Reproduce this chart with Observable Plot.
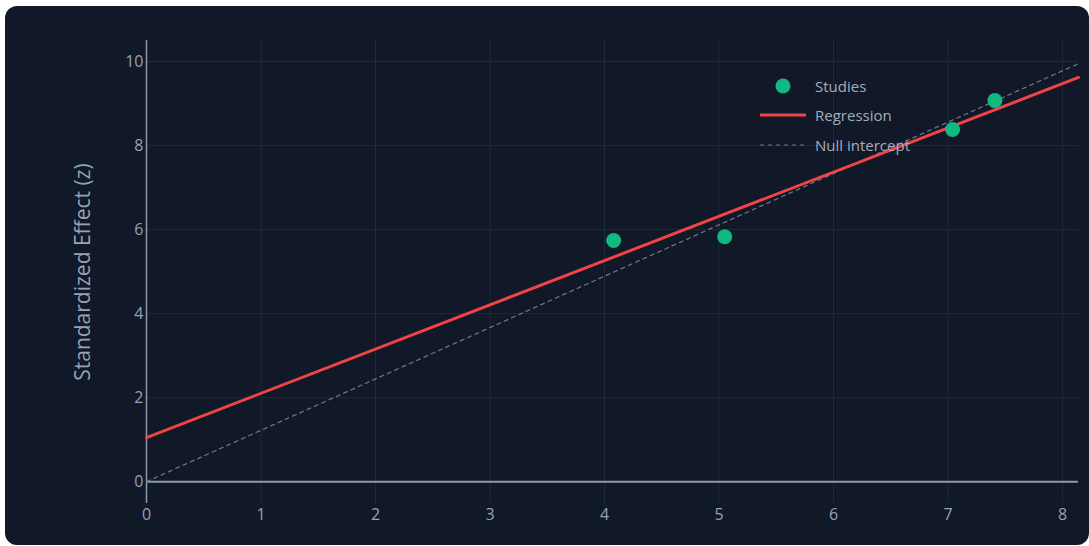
<!DOCTYPE html>
<html>
<head>
<meta charset="utf-8">
<script src="https://cdn.jsdelivr.net/npm/d3@7"></script>
<script src="https://cdn.jsdelivr.net/npm/@observablehq/plot@0.6"></script>
<style>
  html, body { margin: 0; padding: 0; background: #ffffff; width: 1089px; height: 546px; overflow: hidden; }
  #card { position: absolute; left: 5px; top: 6px; width: 1084px; height: 539px; background: #111827; border-radius: 12px; overflow: hidden; font-family: "Open Sans", sans-serif; }
  #legend { position: absolute; left: 745px; top: 65px; font-size: 15px; color: #a3adbd; }
  .row { display: flex; align-items: center; height: 29.5px; }
</style>
</head>
<body>
<div id="card">
  <div id="plot"></div>
  <div id="legend"></div>
</div>
<script>
const studyPrecision = [4.08, 5.05, 7.04, 7.41];
const studyZ = [5.74, 5.83, 8.38, 9.07];
const regressionX = [0, 8.14];
const regressionY = [1.05, 9.62];
const nullX = [0, 8.14];
const nullY = [0, 9.95];
const xTicks = [0, 1, 2, 3, 4, 5, 6, 7, 8];
const yTicks = [0, 2, 4, 6, 8, 10];
const yLabel = "Standardized Effect (z)";
const legendLabels = ["Studies", "Regression", "Null intercept"];

const xDomain = [0, 8.14];
const yDomain = [-0.52, 10.5];

const studies = studyPrecision.map((x, i) => ({x, y: studyZ[i]}));
const regression = regressionX.map((x, i) => ({x, y: regressionY[i]}));
const nullLine = nullX.map((x, i) => ({x, y: nullY[i]}));

const gridColor = "#1f2a3a";
const axisColor = "#8c98ab";
const textColor = "#94a3b8";

const chart = Plot.plot({
  width: 1084,
  height: 539,
  marginLeft: 141,
  marginRight: 11,
  marginTop: 34,
  marginBottom: 42,
  style: { background: "transparent", color: textColor, fontFamily: "Open Sans, sans-serif", fontSize: "16px" },
  x: { domain: xDomain, ticks: xTicks },
  y: { domain: yDomain, ticks: yTicks },
  marks: [
    Plot.ruleX(xTicks.filter(d => d > 0), { y1: yDomain[0], y2: yDomain[1], stroke: gridColor, strokeWidth: 1 }),
    Plot.ruleY(yTicks.filter(d => d > 0), { x1: xDomain[0], x2: xDomain[1], stroke: gridColor, strokeWidth: 1 }),
    Plot.ruleX([0], { y1: yDomain[0], y2: yDomain[1], stroke: axisColor, strokeWidth: 1.5 }),
    Plot.ruleY([0], { x1: xDomain[0], x2: xDomain[1], stroke: axisColor, strokeWidth: 2 }),
    Plot.axisX({ ticks: xTicks, tickSize: 0, tickPadding: 5, fontSize: 16, fill: textColor, label: null }),
    Plot.axisY({ ticks: yTicks, tickSize: 0, tickPadding: 3, fontSize: 16, fill: textColor, label: null }),
    Plot.text([yLabel], { text: d => d, frameAnchor: "left", rotate: -90, dx: -63, fontSize: 21, fill: textColor, textAnchor: "middle", lineAnchor: "middle" }),
    Plot.line(nullLine, { x: "x", y: "y", stroke: "#6b7a90", strokeWidth: 1.2, strokeDasharray: "4,4" }),
    Plot.line(regression, { x: "x", y: "y", stroke: "#ef4444", strokeWidth: 3 }),
    Plot.dot(studies, { x: "x", y: "y", r: 7.5, fill: "#10b981", stroke: "none" })
  ]
});
document.getElementById("plot").appendChild(chart);

const legend = document.getElementById("legend");
const symbols = [
  '<circle cx="33" cy="10" r="7.5" fill="#10b981"/>',
  '<line x1="10" x2="56" y1="10" y2="10" stroke="#ef4444" stroke-width="3"/>',
  '<line x1="10" x2="56" y1="10" y2="10" stroke="#6b7a90" stroke-width="1.2" stroke-dasharray="4,4"/>'
];
legendLabels.forEach((lab, i) => {
  const row = document.createElement("div");
  row.className = "row";
  row.innerHTML = `<svg viewBox="0 0 60 20" style="width:60px;height:20px;margin-right:5px">${symbols[i]}</svg><span>${lab}</span>`;
  legend.appendChild(row);
});
</script>
</body>
</html>
